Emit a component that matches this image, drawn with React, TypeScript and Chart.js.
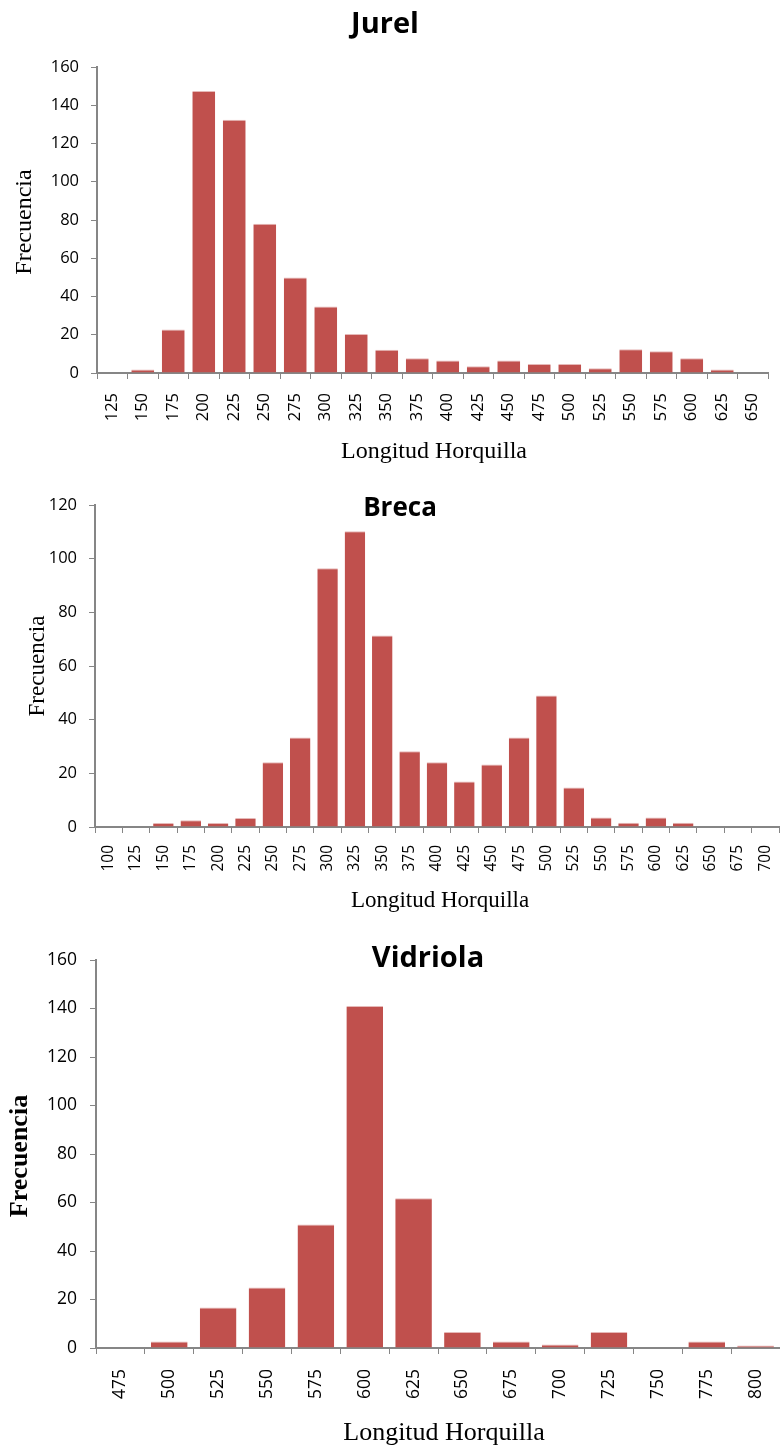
import React, { useEffect, useRef } from 'react';
import { Chart, registerables } from 'chart.js';

Chart.register(...registerables);

// ---------- DATA ----------
const jurelLabels = ['125', '150', '175', '200', '225', '250', '275', '300', '325', '350', '375', '400', '425', '450', '475', '500', '525', '550', '575', '600', '625', '650'];
const jurelValues = [0, 1.8, 22.7, 147.4, 132.4, 78.1, 50, 34.8, 20.4, 12.2, 7.7, 6.5, 3.5, 6.5, 4.7, 4.7, 2.5, 12.4, 11.4, 7.7, 1.8, 0];

const brecaLabels = ['100', '125', '150', '175', '200', '225', '250', '275', '300', '325', '350', '375', '400', '425', '450', '475', '500', '525', '550', '575', '600', '625', '650', '675', '700'];
const brecaValues = [0, 0, 1.5, 2.5, 1.5, 3.4, 24.1, 33.4, 96.4, 110.2, 71.4, 28.2, 24.1, 17, 23.3, 33.4, 49, 14.7, 3.5, 1.6, 3.5, 1.6, 0, 0, 0];

const vidriolaLabels = ['475', '500', '525', '550', '575', '600', '625', '650', '675', '700', '725', '750', '775', '800'];
const vidriolaValues = [0, 2.7, 16.7, 24.9, 50.9, 141, 61.8, 6.6, 2.7, 1.4, 6.6, 0, 2.7, 1];

const chartTitles = ['Jurel', 'Breca', 'Vidriola'];
const xAxisTitle = 'Longitud Horquilla';
const yAxisTitle = 'Frecuencia';
const yMaxes = [160, 120, 160];
const yStep = 20;

// ---------- STYLE ----------
const BAR_COLOR = '#C0504D';
const BAR_EDGE = '#E6B9B8';
const AXIS_COLOR = '#868686';
const SANS = '"Open Sans", "Noto Sans", sans-serif';
const SERIF = '"Liberation Serif", "Times New Roman", serif';

type TextItem = { text: string; x: number; y: number; font: string; rotate?: boolean };

type Spec = {
  top: number;
  height: number;
  labels: string[];
  values: number[];
  max: number;
  area: { left: number; top: number; right: number; bottom: number };
  xTickSize: number;
  yTickSize: number;
  yTickPad: number;
  xTickPad: number;
  texts: TextItem[];
};

const WIDTH = 780;

const specs: Spec[] = [
  {
    top: 0,
    height: 475,
    labels: jurelLabels,
    values: jurelValues,
    max: yMaxes[0],
    area: { left: 97, top: 67, right: 768, bottom: 373 },
    xTickSize: 16.5,
    yTickSize: 16.5,
    yTickPad: 12,
    xTickPad: 14,
    texts: [
      { text: chartTitles[0], x: 385, y: 33, font: `bold 29px ${SANS}` },
      { text: xAxisTitle, x: 434, y: 458, font: `24px ${SERIF}` },
      { text: yAxisTitle, x: 31, y: 222, font: `24px ${SERIF}`, rotate: true },
    ],
  },
  {
    top: 475,
    height: 450,
    labels: brecaLabels,
    values: brecaValues,
    max: yMaxes[1],
    area: { left: 95, top: 30, right: 779, bottom: 352 },
    xTickSize: 15.5,
    yTickSize: 16.5,
    yTickPad: 12,
    xTickPad: 12,
    texts: [
      { text: chartTitles[1], x: 400, y: 41, font: `bold 26px ${SANS}` },
      { text: xAxisTitle, x: 440, y: 432, font: `23px ${SERIF}` },
      { text: yAxisTitle, x: 44, y: 191, font: `23px ${SERIF}`, rotate: true },
    ],
  },
  {
    top: 925,
    height: 525,
    labels: vidriolaLabels,
    values: vidriolaValues,
    max: yMaxes[2],
    area: { left: 96, top: 35, right: 780, bottom: 423 },
    xTickSize: 17.5,
    yTickSize: 17.5,
    yTickPad: 13,
    xTickPad: 15,
    texts: [
      { text: chartTitles[2], x: 428, y: 42, font: `bold 29px ${SANS}` },
      { text: xAxisTitle, x: 444, y: 515, font: `26px ${SERIF}` },
      { text: yAxisTitle, x: 27, y: 231, font: `bold 26px ${SERIF}`, rotate: true },
    ],
  },
];

function textPlugin(items: TextItem[]) {
  return {
    id: 'fixedTexts',
    afterDraw(chart: any) {
      const ctx = chart.ctx as CanvasRenderingContext2D;
      for (const t of items) {
        ctx.save();
        ctx.font = t.font;
        ctx.fillStyle = '#000';
        ctx.textAlign = 'center';
        ctx.textBaseline = 'alphabetic';
        ctx.translate(t.x, t.y);
        if (t.rotate) ctx.rotate(-Math.PI / 2);
        ctx.fillText(t.text, 0, 0);
        ctx.restore();
      }
    },
  };
}

function buildChart(canvas: HTMLCanvasElement, spec: Spec) {
  return new Chart(canvas, {
    type: 'bar',
    data: {
      labels: spec.labels,
      datasets: [
        {
          data: spec.values,
          backgroundColor: BAR_COLOR,
          borderColor: BAR_EDGE,
          borderWidth: { top: 1, left: 0, right: 0, bottom: 0 },
          borderSkipped: 'bottom',
          barPercentage: 0.75,
          categoryPercentage: 1,
        },
      ],
    },
    options: {
      animation: false,
      responsive: false,
      maintainAspectRatio: false,
      devicePixelRatio: 1,
      layout: {
        padding: { top: spec.area.top, right: WIDTH - spec.area.right, bottom: 0, left: 0 },
      },
      plugins: {
        legend: { display: false },
        tooltip: { enabled: false },
        title: { display: false },
      },
      scales: {
        x: {
          type: 'category',
          offset: true,
          grid: {
            display: true,
            drawOnChartArea: false,
            drawTicks: true,
            tickLength: 6,
            color: AXIS_COLOR,
            lineWidth: 1,
            offset: true,
          },
          border: { display: true, color: AXIS_COLOR, width: 2 },
          ticks: {
            minRotation: 90,
            maxRotation: 90,
            autoSkip: false,
            padding: spec.xTickPad,
            color: '#000',
            font: { family: SANS, size: spec.xTickSize },
          },
          afterFit: (s: any) => {
            s.height = spec.height - spec.area.bottom;
            s.paddingLeft = 0;
            s.paddingRight = 0;
          },
        },
        y: {
          min: 0,
          max: spec.max,
          grid: {
            display: true,
            drawOnChartArea: false,
            drawTicks: true,
            tickLength: 6,
            color: AXIS_COLOR,
            lineWidth: 1,
          },
          border: { display: true, color: AXIS_COLOR, width: 2 },
          ticks: {
            stepSize: yStep,
            padding: spec.yTickPad,
            color: '#000',
            font: { family: SANS, size: spec.yTickSize },
          },
          afterFit: (s: any) => {
            s.width = spec.area.left;
            s.paddingTop = 0;
            s.paddingBottom = 0;
          },
        },
      },
    } as any,
    plugins: [textPlugin(spec.texts)],
  });
}

function BarPanel({ spec }: { spec: Spec }) {
  const ref = useRef<HTMLCanvasElement | null>(null);
  useEffect(() => {
    if (!ref.current) return;
    const chart = buildChart(ref.current, spec);
    return () => chart.destroy();
  }, [spec]);
  return (
    <canvas
      ref={ref}
      width={WIDTH}
      height={spec.height}
      style={{ position: 'absolute', left: 0, top: spec.top, width: WIDTH, height: spec.height }}
    />
  );
}

export default function App() {
  useEffect(() => {
    document.body.style.margin = '0';
    document.body.style.background = '#fff';
  }, []);
  return (
    <div style={{ position: 'relative', width: WIDTH, height: 1450, background: '#fff', overflow: 'hidden' }}>
      {specs.map((s, i) => (
        <BarPanel key={i} spec={s} />
      ))}
    </div>
  );
}
